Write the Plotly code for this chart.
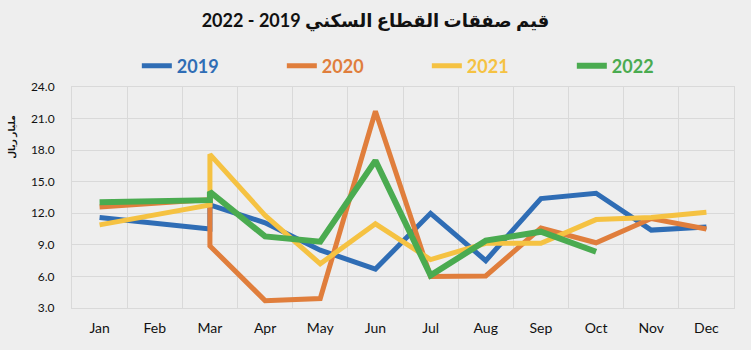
import plotly.graph_objects as go

months = ["Jan", "Feb", "Mar", "Apr", "May", "Jun", "Jul", "Aug", "Sep", "Oct", "Nov", "Dec"]

x_full = ["Jan", "Mar", "Mar", "Apr", "May", "Jun", "Jul", "Aug", "Sep", "Oct", "Nov", "Dec"]
x_2022 = ["Jan", "Mar", "Mar", "Apr", "May", "Jun", "Jul", "Aug", "Sep", "Oct"]

v2019 = [11.6, 10.5, 12.8, 11.1, 8.5, 6.7, 12.0, 7.5, 13.4, 13.9, 10.4, 10.7]
v2020 = [12.6, 13.3, 8.9, 3.7, 3.9, 21.7, 6.0, 6.05, 10.6, 9.2, 11.5, 10.5]
v2021 = [10.9, 12.8, 17.6, 11.8, 7.2, 11.0, 7.6, 9.15, 9.15, 11.4, 11.6, 12.1]
v2022 = [13.05, 13.25, 14.05, 9.8, 9.3, 17.0, 6.1, 9.4, 10.25, 8.35]

y_ticks = [3.0, 6.0, 9.0, 12.0, 15.0, 18.0, 21.0, 24.0]

title_text = "قيم صفقات القطاع السكني 2019 - 2022"
y_title = "مليار ريال"

series = [
    ("2019", x_full, v2019, "#2F6DB5", 5),
    ("2020", x_full, v2020, "#E07E3C", 5),
    ("2021", x_full, v2021, "#F5C242", 5),
    ("2022", x_2022, v2022, "#4AAB50", 6),
]

fig = go.Figure()
for name, xs, ys, color, w in series:
    fig.add_trace(go.Scatter(
        x=xs, y=ys, mode="lines", name=f"<span style='color:{color}'><b>{name}</b></span>",
        line=dict(color=color, width=w),
        hoverinfo="skip",
    ))

FONT = "Lato, 'DejaVu Sans', sans-serif"
fig.update_layout(
    width=751, height=350,
    margin=dict(l=72, r=17, t=87, b=42),
    paper_bgcolor="#EEEEEE", plot_bgcolor="#EEEEEE",
    font=dict(family=FONT, color="#111111"),
    title=dict(text=f"<b>{title_text}</b>", x=0.5, xanchor="center", y=0.94, yanchor="middle",
               font=dict(size=18, color="#111111", family=FONT)),
    showlegend=True,
    legend=dict(orientation="h", x=0.536, xanchor="center", y=1.095, yanchor="middle",
                font=dict(size=18, family=FONT), entrywidth=100, entrywidthmode="pixels",
                itemwidth=30, bgcolor="rgba(0,0,0,0)"),
    xaxis=dict(type="category", categoryorder="array", categoryarray=months,
               range=[-0.5, 11.5], tickson="boundaries", showgrid=True,
               gridcolor="#D9D9D9", gridwidth=1, ticks="", zeroline=False,
               tickfont=dict(size=14, family=FONT, color="#111111"),
               ticklabelstandoff=7, showline=True, linecolor="#D9D9D9", mirror=True),
    yaxis=dict(range=[3, 24], tickvals=y_ticks, ticktext=[f"{v:.1f}" for v in y_ticks],
               showgrid=True, gridcolor="#D9D9D9", gridwidth=1, zeroline=False,
               tickfont=dict(size=12, family=FONT, color="#111111"), ticks="",
               ticklabelstandoff=14, showline=True, linecolor="#D9D9D9", mirror=True),
    annotations=[dict(text=f"<b>{y_title}</b>", xref="paper", yref="paper",
                      x=-0.091, y=0.774, xanchor="center", yanchor="middle",
                      textangle=-90, showarrow=False,
                      font=dict(size=9, color="#111111", family=FONT))],
)

fig.write_html("out.html")
